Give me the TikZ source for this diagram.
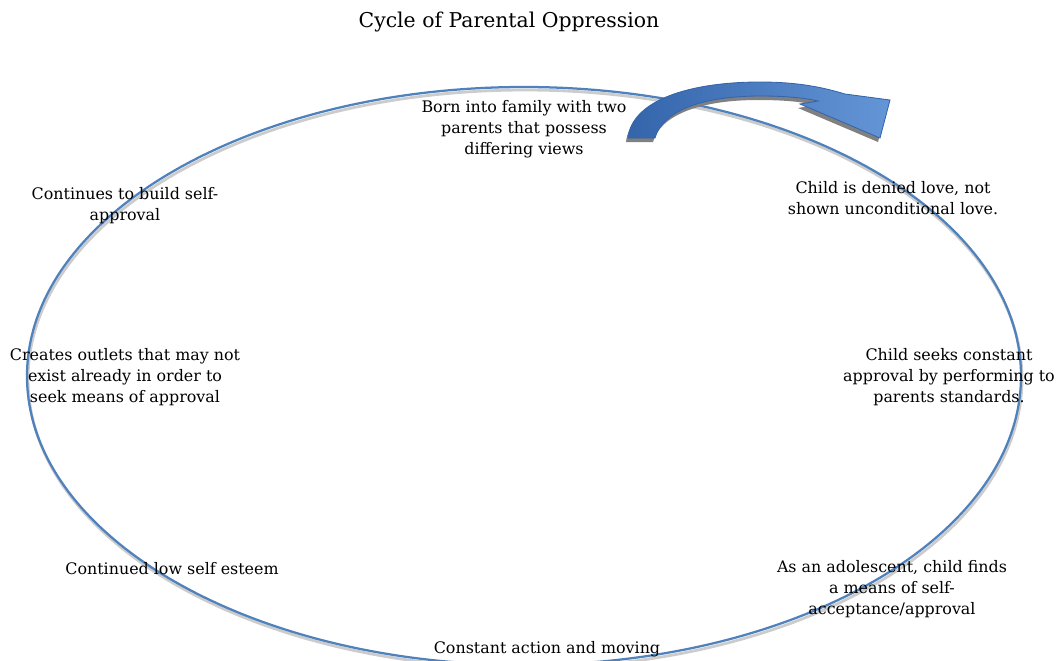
\documentclass[tikz,border=0pt]{standalone}
\usepackage{fontspec}
\setmainfont{DejaVu Serif}
\usetikzlibrary{positioning}

\definecolor{cycleblue}{RGB}{79,129,189}
\definecolor{arrowdark}{RGB}{52,100,170}
\definecolor{arrowlight}{RGB}{100,150,215}

\tikzset{
  step text/.style={align=center, font=\fontsize{11.3}{14.9}\selectfont, text=black, inner sep=0pt},
  title text/.style={font=\fontsize{14.5}{17}\selectfont, text=black, inner sep=0pt}
}

\begin{document}
\begin{tikzpicture}[x=0.025cm, y=-0.025cm]

            \useasboundingbox (0,0) rectangle (1061,660);

            % the cycle
            \draw[line width=2pt, black!20] (525,379) ellipse [x radius=497, y radius=289];
            \draw[line width=1.6pt, cycleblue] (524,376) ellipse [x radius=497, y radius=289];

            % curved arrow, shadow first
            \fill[black!50, shift={(-2,4)}] (628,138) .. controls (632,100) and (690,82) .. (760,82)
                .. controls (800,82) and (825,88) .. (845,94) -- (890,100) -- (880,138) -- (800,104)
                -- (818,101) .. controls (800,97) and (780,96) .. (760,96)
                .. controls (700,96) and (662,112) .. (655,138) -- cycle;
            \shade[left color=arrowdark, right color=arrowlight, draw=arrowdark, line width=0.6pt]
                (628,138) .. controls (632,100) and (690,82) .. (760,82)
                .. controls (800,82) and (825,88) .. (845,94) -- (890,100) -- (880,138) -- (800,104)
                -- (818,101) .. controls (800,97) and (780,96) .. (760,96)
                .. controls (700,96) and (662,112) .. (655,138) -- cycle;

            \node[title text] (title) at (509,22) {Cycle of Parental Oppression};

            \node[step text] (born) at (524,129) {Born into family with two\\parents that possess\\differing views};
            \node[step text] (denied) at (893,198) {Child is denied love, not\\shown unconditional love.};
            \node[step text] (seeks) at (949,377) {Child seeks constant\\approval by performing to\\parents standards.};
            \node[step text] (adolescent) at (892,589) {As an adolescent, child finds\\a means of self-\\acceptance/approval};
            \node[step text] (moving) at (547,649) {Constant action and moving};
            \node[step text] (lowesteem) at (172,569) {Continued low self esteem};
            \node[step text] (outlets) at (125,377) {Creates outlets that may not\\exist already in order to\\seek means of approval};
            \node[step text] (build) at (125,206) {Continues to build self-\\approval};

        \end{tikzpicture}
\end{document}
